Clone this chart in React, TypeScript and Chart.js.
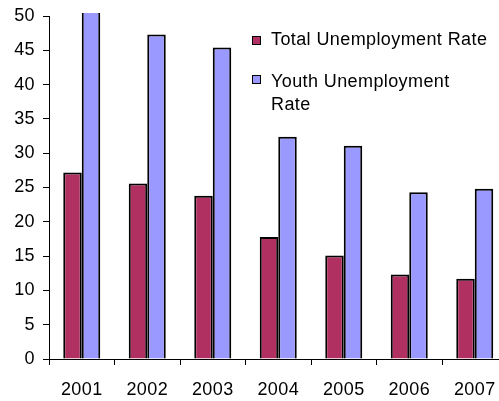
import React, { useEffect, useRef } from "react";
import { Chart, registerables } from "chart.js";

Chart.register(...registerables);

const years = ["2001", "2002", "2003", "2004", "2005", "2006", "2007"];
const totalRate = [27.2, 25.6, 23.8, 17.8, 15.1, 12.3, 11.7];
const youthRate = [52, 47.3, 45.4, 32.4, 31.1, 24.3, 24.8];
const seriesNames = ["Total Unemployment Rate", "Youth Unemployment Rate"];
const legendLines = [["Total Unemployment Rate"], ["Youth Unemployment", "Rate"]];
const yMin = 0;
const yMax = 50;
const yStep = 5;

const totalColor = "#B03062";
const youthColor = "#9999FF";
const FONT = '"Liberation Sans", Arial, sans-serif';

const CANVAS_W = 520;
const CANVAS_H = 401;

const spacingPlugin = {
  id: "letterSpacing",
  beforeInit(chart: any) {
    chart.ctx.letterSpacing = "0.4px";
  },
  beforeUpdate(chart: any) {
    chart.ctx.letterSpacing = "0.4px";
  },
  beforeDraw(chart: any) {
    chart.ctx.letterSpacing = "0.4px";
  },
};

const legendPlugin = {
  id: "customLegend",
  afterDraw(chart: any) {
    const ctx = chart.ctx;
    ctx.save();
    ctx.font = `18px ${FONT}`;
    ctx.letterSpacing = "0.4px";
    ctx.textBaseline = "alphabetic";
    ctx.textAlign = "left";
    const entries = [
      { boxY: 36, baselines: [45] },
      { boxY: 75, baselines: [87, 110] },
    ];
    chart.data.datasets.forEach((ds: any, i: number) => {
      const e = entries[i];
      ctx.fillStyle = ds.backgroundColor;
      ctx.fillRect(252, e.boxY, 9, 9);
      ctx.strokeStyle = "#000";
      ctx.lineWidth = 1;
      ctx.strokeRect(252.5, e.boxY + 0.5, 8, 8);
      ctx.fillStyle = "#000";
      legendLines[i].forEach((line, j) => {
        ctx.fillText(line, 271, e.baselines[j]);
      });
    });
    ctx.restore();
  },
};

export default function App() {
  const ref = useRef<HTMLCanvasElement | null>(null);

  useEffect(() => {
    if (!ref.current) return;
    Chart.defaults.font.family = FONT;
    Chart.defaults.font.size = 18;
    Chart.defaults.color = "#000";
    const chart = new Chart(ref.current, {
      type: "bar",
      data: {
        labels: years,
        datasets: [
          {
            label: seriesNames[0],
            data: totalRate,
            backgroundColor: totalColor,
            borderColor: "#000",
            borderWidth: 2,
            categoryPercentage: 0.565,
            barPercentage: 1,
          },
          {
            label: seriesNames[1],
            data: youthRate,
            backgroundColor: youthColor,
            borderColor: "#000",
            borderWidth: 2,
            categoryPercentage: 0.565,
            barPercentage: 1,
            clip: { left: false, right: false, bottom: false, top: 3 } as any,
          },
        ],
      },
      options: {
        animation: false,
        responsive: false,
        maintainAspectRatio: false,
        layout: { padding: { top: 16, right: 12.5, left: 0, bottom: 0 } },
        plugins: {
          legend: { display: false },
          tooltip: { enabled: false },
        },
        scales: {
          x: {
            grid: {
              display: true,
              drawOnChartArea: false,
              tickLength: 6,
              color: "#000",
              offset: true,
            },
            border: { color: "#000", width: 1 },
            ticks: { padding: 14, maxRotation: 0, font: { size: 18 } },
            afterFit: (scale: any) => {
              scale.height = 42;
            },
          },
          y: {
            min: yMin,
            max: yMax,
            grid: {
              display: true,
              drawOnChartArea: false,
              tickLength: 6,
              color: "#000",
            },
            border: { color: "#000", width: 1 },
            ticks: { stepSize: yStep, padding: 8, font: { size: 18, lineHeight: 0.8 } },
            afterFit: (scale: any) => {
              scale.width = 49;
            },
          },
        },
      },
      plugins: [spacingPlugin, legendPlugin],
    });
    return () => chart.destroy();
  }, []);

  return (
    <div
      style={{
        position: "fixed",
        left: 0,
        top: 0,
        width: 499,
        height: 401,
        overflow: "hidden",
        background: "#fff",
      }}
    >
      <canvas ref={ref} width={CANVAS_W} height={CANVAS_H} style={{ display: "block" }} />
    </div>
  );
}
